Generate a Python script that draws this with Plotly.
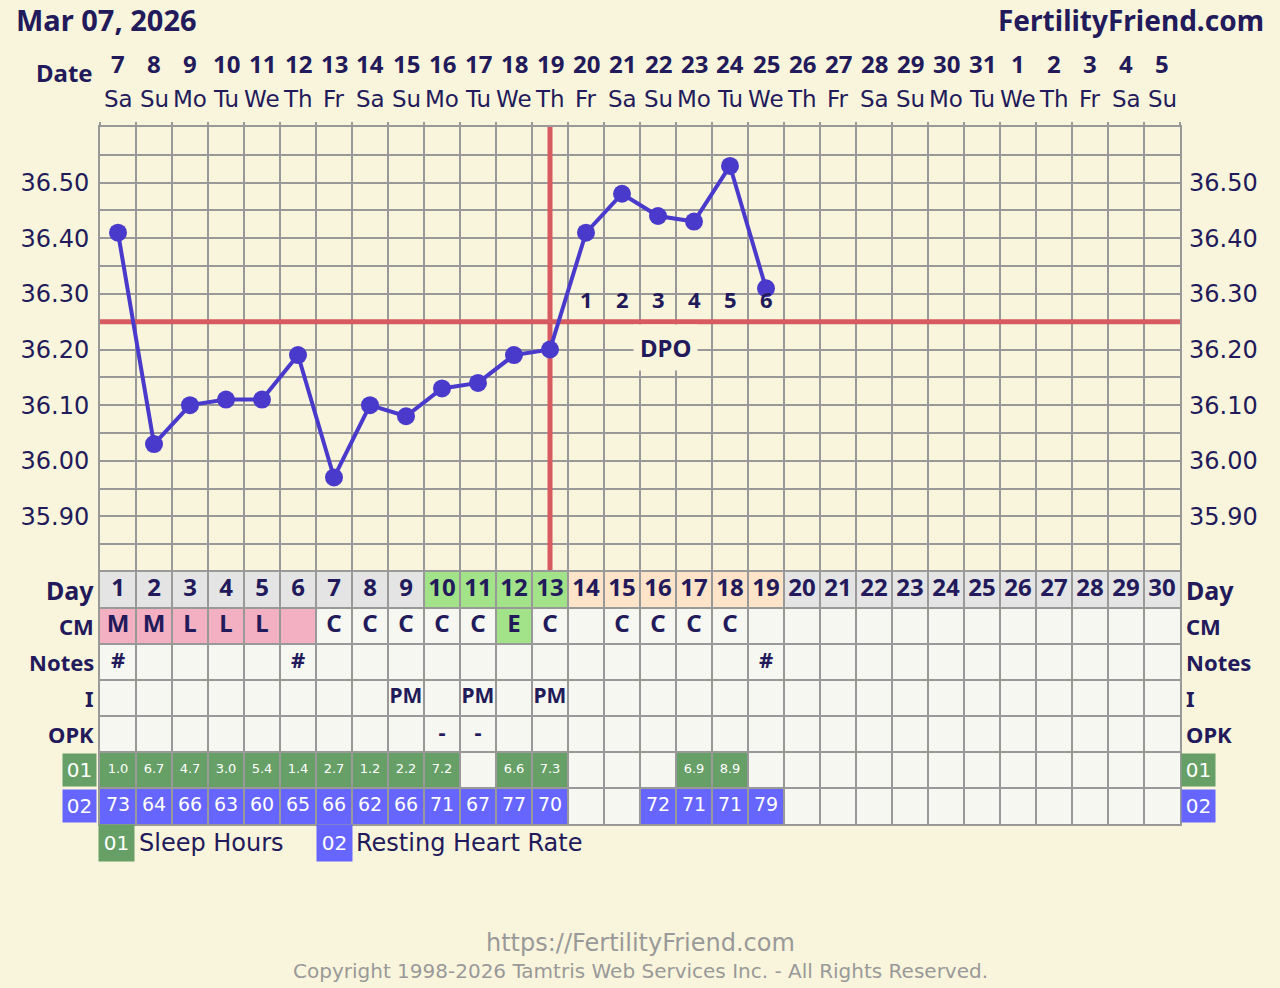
import plotly.graph_objects as go

# ---------------- data ----------------
days = list(range(1, 31))
date_nums = list(range(7, 32)) + list(range(1, 6))
weekdays = (["Sa", "Su", "Mo", "Tu", "We", "Th", "Fr"] * 5)[:30]
temps = [36.41, 36.03, 36.10, 36.11, 36.11, 36.19, 35.97, 36.10, 36.08, 36.13,
         36.14, 36.19, 36.20, 36.41, 36.48, 36.44, 36.43, 36.53, 36.31]
coverline = 36.25
ovulation_day = 13
dpo_days = [14, 15, 16, 17, 18, 19]
dpo_labels = ["1", "2", "3", "4", "5", "6"]
day_phase = ["base"] * 9 + ["fertile"] * 4 + ["luteal"] * 6 + ["base"] * 11
cm_text = ["M", "M", "L", "L", "L", "", "C", "C", "C", "C", "C", "E", "C", "",
           "C", "C", "C", "C"] + [""] * 12
cm_kind = ["period"] * 6 + [""] * 5 + ["egg"] + [""] * 18
notes = ["#", "", "", "", "", "#"] + [""] * 12 + ["#"] + [""] * 11
intercourse = [""] * 8 + ["PM", "", "PM", "", "PM"] + [""] * 17
opk = [""] * 9 + ["-", "-"] + [""] * 19
sleep_hours = [1.0, 6.7, 4.7, 3.0, 5.4, 1.4, 2.7, 1.2, 2.2, 7.2, None, 6.6, 7.3,
               None, None, None, 6.9, 8.9] + [None] * 12
resting_hr = [73, 64, 66, 63, 60, 65, 66, 62, 66, 71, 67, 77, 70, None, None,
              72, 71, 71, 79] + [None] * 11
row_labels = ["Day", "CM", "Notes", "I", "OPK"]
temp_ticks = [round(35.85 + 0.05 * i, 2) for i in range(15)]

# ---------------- style ----------------
W, H = 1280, 988
BG = "#f9f5dc"
NAVY = "#221a5a"
GRID = "#999999"
CELL = "#f7f7f1"
DAYGRAY = "#e4e4e4"
FERTILE = "#a2e38a"
LUTEAL = "#fde3c7"
PINK = "#f3b0c3"
SLEEP = "#66a066"
RHR = "#6666ff"
LINE = "#4a3acb"
RED = "#d65a5f"
BOLD = "Noto Sans"
REG = "DejaVu Sans"


def py(p):
    return 1 - p / H


def px(p):
    return p / W


fig = go.Figure()

# temperature curve
fig.add_trace(go.Scatter(
    x=days[:len(temps)], y=temps, mode="lines+markers",
    line=dict(color=LINE, width=4), marker=dict(size=18, color=LINE),
    xaxis="x", yaxis="y", hoverinfo="skip", showlegend=False))
# right axis carrier
fig.add_trace(go.Scatter(x=[days[0]], y=[temps[0]], mode="markers",
                         marker=dict(opacity=0), xaxis="x", yaxis="y3",
                         hoverinfo="skip", showlegend=False))

# table cell fills
shapes = []
phase_col = {"base": DAYGRAY, "fertile": FERTILE, "luteal": LUTEAL}
for i, d in enumerate(days):
    cols = [phase_col[day_phase[i]],
            PINK if cm_kind[i] == "period" else (FERTILE if cm_kind[i] == "egg" else CELL),
            CELL, CELL, CELL,
            SLEEP if sleep_hours[i] is not None else CELL,
            RHR if resting_hr[i] is not None else CELL]
    for r, c in enumerate(cols):
        shapes.append(dict(type="rect", xref="x", yref="y2", x0=d - 0.5, x1=d + 0.5,
                           y0=r, y1=r + 1, fillcolor=c, line=dict(width=0),
                           layer="below"))

# coverline + ovulation line
shapes.append(dict(type="line", xref="x", yref="y", x0=0.5, x1=30.5, y0=coverline,
                   y1=coverline, line=dict(color=RED, width=5), layer="between"))
shapes.append(dict(type="line", xref="x", yref="y", x0=ovulation_day, x1=ovulation_day,
                   y0=35.80, y1=36.60, line=dict(color=RED, width=5), layer="between"))


def row_trace(r, texts, family, size, color, bold):
    f = dict(family=family, size=size, color=color)
    if bold:
        f["weight"] = "bold"
    fig.add_trace(go.Scatter(x=days, y=[r + 0.5] * len(days), text=texts, mode="text",
                             textposition="middle center", textfont=f,
                             xaxis="x", yaxis="y2", hoverinfo="skip", showlegend=False))


row_trace(0, [str(d) for d in days], BOLD, 24, NAVY, True)
row_trace(1, cm_text, BOLD, 24, NAVY, True)
row_trace(2, notes, BOLD, 22, NAVY, True)
row_trace(3, intercourse, BOLD, 21, NAVY, True)
row_trace(4, opk, BOLD, 22, NAVY, True)
row_trace(5, ["" if v is None else f"{v:.1f}" for v in sleep_hours], REG, 13, "white", False)
row_trace(6, ["" if v is None else str(v) for v in resting_hr], REG, 19, "white", False)

ann = []


def text(x, y, s, size, family=BOLD, bold=True, color=NAVY, xanchor="center",
         xref="paper", yref="paper", **kw):
    f = dict(family=family, size=size, color=color)
    if bold:
        f["weight"] = "bold"
    ann.append(dict(x=x, y=y, xref=xref, yref=yref, text=s, showarrow=False, font=f,
                    xanchor=xanchor, yanchor="middle", **kw))


text(px(14), py(20), "Mar 07, 2026", 29, xanchor="left")
text(px(1266), py(20), "FertilityFriend.com", 28, xanchor="right")
text(px(64), py(72), "Date", 24)
for d, n, w in zip(days, date_nums, weekdays):
    text(d, py(64), str(n), 24, xref="x")
    text(d, py(99), w, 23, family=REG, bold=False, xref="x")

for d, s in zip(dpo_days, dpo_labels):
    text(d, 36.29, s, 22, xref="x", yref="y")
text(16.2, 36.203, "DPO", 24, xref="x", yref="y", bgcolor=BG, borderpad=6)

row_px = [572 + 36 * r + 18 for r in range(7)]
for r, lab in enumerate(row_labels):
    size = 25 if lab == "Day" else 22
    text(px(96), py(row_px[r]), lab, size, xanchor="right")
    text(px(1184), py(row_px[r]), lab, size, xanchor="left")
for r, (lab, col) in enumerate([("01", SLEEP), ("02", RHR)]):
    for cx in (79, 1198):
        text(px(cx), py(row_px[5 + r]), lab, 20, family=REG, bold=False, color="white",
             bgcolor=col, width=31, height=30)

# legend
text(px(116), py(843), "01", 20, family=REG, bold=False, color="white",
     bgcolor=SLEEP, width=33, height=34)
text(px(137), py(843), "Sleep Hours", 24, family=REG, bold=False, xanchor="left")
text(px(334), py(843), "02", 20, family=REG, bold=False, color="white",
     bgcolor=RHR, width=33, height=34)
text(px(354), py(843), "Resting Heart Rate", 24, family=REG, bold=False, xanchor="left")

# footer
text(0.5, py(943), "https://FertilityFriend.com", 24, family=REG, bold=False, color="#999999")
text(0.5, py(971), "Copyright 1998-2026 Tamtris Web Services Inc. - All Rights Reserved.",
     20, family=REG, bold=False, color="#999999")

tick_text = [f"{v:.2f}" if int(round(v * 100)) % 10 == 0 else "" for v in temp_ticks]

fig.update_layout(
    width=W, height=H, margin=dict(l=0, r=0, t=0, b=0),
    paper_bgcolor=BG, plot_bgcolor=BG, showlegend=False,
    xaxis=dict(domain=[px(100), px(1180)], range=[0.5, 30.5],
               tickvals=[d + 0.5 for d in [0] + days], showticklabels=False,
               showgrid=True, gridcolor=GRID, gridwidth=2, zeroline=False,
               anchor="y", side="top", ticks="outside", ticklen=3, tickwidth=2,
               tickcolor=GRID, showline=True, linecolor=GRID, linewidth=2, mirror="all",
               fixedrange=True),
    yaxis=dict(domain=[py(572), py(127)], range=[35.80, 36.60], tickvals=temp_ticks,
               ticktext=tick_text, showgrid=True, gridcolor=GRID, gridwidth=2,
               zeroline=False, showline=True, linecolor=GRID, linewidth=2, mirror=True,
               ticks="", ticklabelstandoff=4, anchor="x",
               tickfont=dict(family=REG, size=24, color=NAVY)),
    yaxis3=dict(overlaying="y", side="right", anchor="x", range=[35.80, 36.60],
                tickvals=temp_ticks, ticktext=tick_text, showgrid=False, zeroline=False,
                ticks="", ticklabelstandoff=8,
                tickfont=dict(family=REG, size=24, color=NAVY)),
    yaxis2=dict(domain=[py(824), py(572)], range=[7, 0], tickvals=list(range(8)),
                showticklabels=False, showgrid=True, gridcolor=GRID, gridwidth=2,
                zeroline=False, showline=True, linecolor=GRID, linewidth=2, mirror=True,
                anchor="x"),
    shapes=shapes, annotations=ann,
)

fig.write_html("out.html", config={"displayModeBar": False},
               post_script="document.body.style.margin='0';document.body.style.overflow='hidden';")
